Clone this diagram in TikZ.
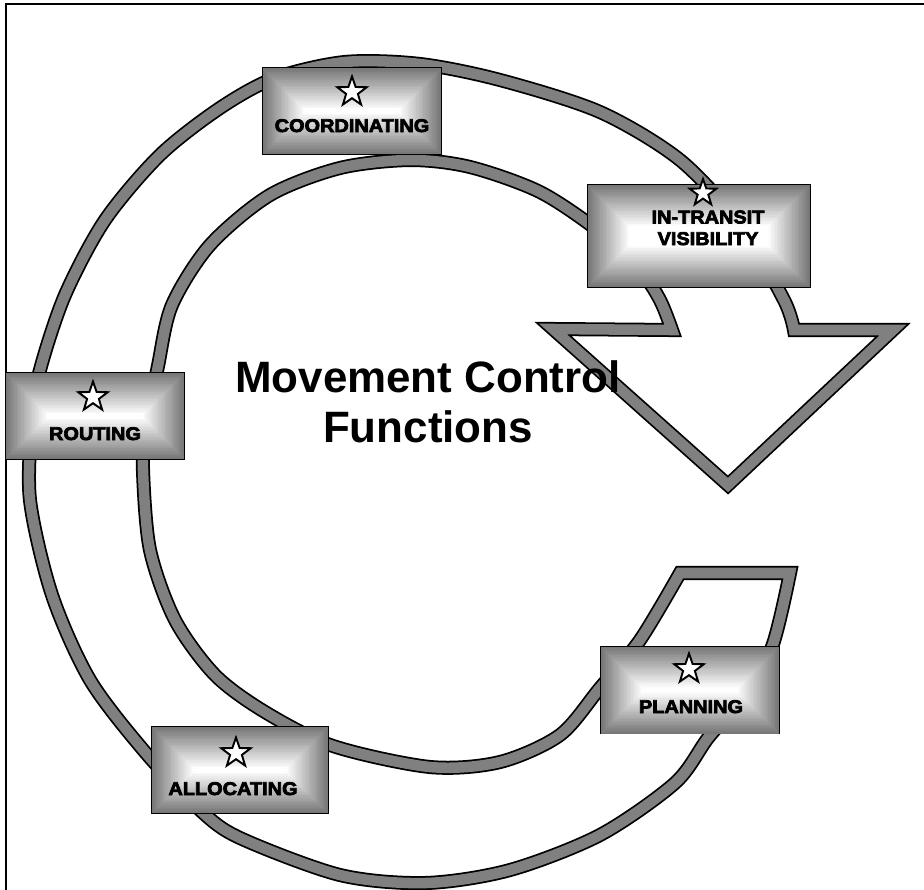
\documentclass[tikz,border=0pt]{standalone}
\usepackage{fontspec}
\setmainfont{Liberation Sans}
\newfontfamily\BoxFont{Liberation Sans}[FakeStretch=1.08,BoldFeatures={FakeBold=4}]
\usepackage{tikz}
\usepackage{xcolor}
\usetikzlibrary{shapes.geometric}
\usetikzlibrary{calc,positioning}
\definecolor{RingGray}{HTML}{808080}
\definecolor{BoxGray}{HTML}{787878}
\tikzstyle{RingBand} =[draw,line width=1pt,double=RingGray,double distance=6pt,line join=miter]
\tikzstyle{FunctionBox} =[draw,line width=1pt,inner sep=0pt,minimum width=3.56cm,minimum height=1.72cm]
\tikzstyle{FunctionStar} =[draw,fill=white,star,star points=5,star point ratio=2.5,minimum size=0.62cm,inner sep=0pt,line width=1.1pt]
\tikzstyle{FunctionLabel} =[font=\BoxFont\bfseries\fontsize{10.5}{12.3}\selectfont,anchor=base,inner sep=0pt,align=center]
\tikzstyle{TitleText} =[font=\bfseries\fontsize{25}{28.4}\selectfont,anchor=base,inner sep=0pt,align=center]

\begin{document}
\begin{tikzpicture}[x=0.02cm,y=-0.02cm]
    \useasboundingbox (0,0) rectangle (924,890);
    \draw[line width=1pt] (6,890) -- (6,4) -- (924,4);

    % the circular arrow
    \draw[RingBand] (680,573) -- plot[smooth] coordinates {(790,573) (772,647) (742,698) (708,738) (675,783) (600,835) (510,870) (426,883) (340,875) (240,838) (200,810) (145,752) (90,680) (52,595) (30,500) (32,420) (40,370) (65,295) (105,220) (160,155) (220,108) (275,78) (345,62) (420,64) (500,80) (600,112) (680,160) (740,225) (784,300) (794,330)}
        -- (893,330) -- (728,485) -- (553,329)
        -- plot[smooth] coordinates {(672,330) (660,300) (640,270) (600,232) (540,192) (470,167) (410,160) (340,168) (270,195) (210,245) (172,305) (158,366) (146,430) (143,470) (150,550) (175,620) (215,675) (265,712) (333,746) (430,767) (500,762) (560,735) (600,688) (640,640) (680,573)} -- cycle;

    \node[TitleText] (Title) at (428,442) {Movement Control\\Functions};

    % function boxes
    \node[FunctionBox] (Coordinating) at (352,111) {};
    \node[FunctionBox,minimum width=4.44cm,minimum height=2.04cm] (In-Transit-Visibility) at (699,236) {};
    \node[FunctionBox] (Routing) at (95,416) {};
    \node[FunctionBox,minimum height=1.74cm] (Planning) at (690,690) {};
    \node[FunctionBox,minimum width=3.52cm] (Allocating) at (240,770) {};

    % bevelled grey fill, edge to centre
    \foreach \b in {Coordinating,In-Transit-Visibility,Routing,Planning,Allocating}
        \foreach \i in {0,...,26}{
            \pgfmathsetmacro\p{max(0,100-4.3*\i)}
            \fill[BoxGray!\p!white] ($(\b.south west)+(\i*1pt+0.5pt,\i*1pt+0.5pt)$) rectangle ($(\b.north east)-(\i*1pt+0.5pt,\i*1pt+0.5pt)$);
        }

    \node[FunctionStar] (Coordinating-Star) at ($(Coordinating)+(0,-19)$) {};
    \node[FunctionLabel] (Coordinating-Label) at ($(Coordinating)+(0,21)$) {COORDINATING};

    \node[FunctionStar,minimum size=0.56cm] (In-Transit-Visibility-Star) at (703,193) {};
    \node[FunctionLabel] (In-Transit-Visibility-Label) at (708,245) {IN-TRANSIT\\VISIBILITY};

    \node[FunctionStar] (Routing-Star) at ($(Routing)+(-2,-19)$) {};
    \node[FunctionLabel] (Routing-Label) at ($(Routing)+(0,24)$) {ROUTING};

    \node[FunctionStar] (Planning-Star) at ($(Planning)+(-1,-21)$) {};
    \node[FunctionLabel] (Planning-Label) at ($(Planning)+(1,23)$) {PLANNING};

    \node[FunctionStar] (Allocating-Star) at ($(Allocating)+(-4,-17)$) {};
    \node[FunctionLabel] (Allocating-Label) at ($(Allocating)+(-7,25)$) {ALLOCATING};
\end{tikzpicture}
\end{document}
